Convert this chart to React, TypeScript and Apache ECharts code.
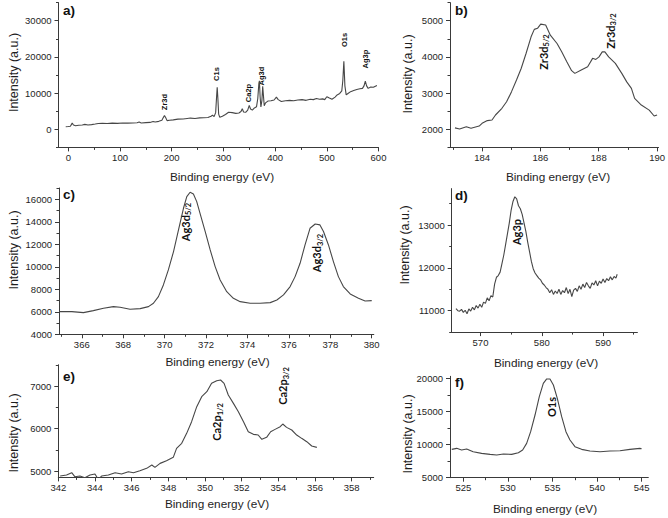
import React, { useEffect, useRef } from 'react';
import * as echarts from 'echarts';

// ---------- DATA ----------
// a) survey spectrum
const surveyEnergy = [-5, 0, 4, 7.5, 10, 14, 20, 27, 32, 38, 45, 52, 58, 66, 75, 85, 95, 105, 115, 125, 133, 137, 141, 150, 158, 164, 168, 175, 181, 184, 186, 188.5, 191, 196, 203, 212, 222, 230, 236, 245, 254, 262, 270, 276, 279, 282, 285, 286.8, 288, 289.3, 290.8, 293, 298, 304, 310, 317, 324, 330, 334, 336.5, 339, 343, 347, 350, 352.5, 356, 360, 364, 366.5, 368.5, 369.6, 371, 372.5, 374.5, 376, 377.3, 379, 381.5, 386, 392, 398, 402.5, 406, 412, 420, 428, 436, 444, 452, 460, 468, 474, 480, 486, 492, 496, 500, 504, 510, 516, 520, 525, 529, 531, 533, 535, 537.5, 541, 546, 552, 558, 564, 569, 572, 574.5, 577, 580, 585, 590, 594, 597];
const surveyIntensity = [700, 780, 850, 1700, 1200, 1000, 1100, 1200, 1350, 1200, 1300, 1450, 1600, 1650, 1600, 1700, 1650, 1750, 1700, 1750, 1800, 2000, 1750, 1850, 1900, 2150, 2000, 2200, 2500, 3300, 3800, 3200, 2400, 2500, 2600, 2800, 2850, 3000, 3100, 3000, 3150, 3200, 3250, 3600, 3900, 3500, 4600, 9000, 11600, 8500, 4200, 3300, 3600, 4100, 4700, 4600, 4400, 4500, 4900, 5700, 4800, 4700, 5300, 6600, 5600, 5300, 5900, 6200, 8500, 12500, 13400, 9000, 6200, 8000, 11900, 9500, 6500, 7300, 7800, 7900, 8100, 8900, 8200, 7700, 7900, 8000, 7900, 8100, 8200, 8000, 8300, 8200, 8500, 8300, 8400, 8200, 9000, 8700, 8300, 8900, 9500, 9900, 10600, 13500, 18800, 12000, 9500, 9900, 10400, 10700, 11000, 11200, 11300, 12000, 13300, 12000, 11300, 11700, 11600, 11900, 12100];
const surveyXTicks = [0, 100, 200, 300, 400, 500, 600];
const surveyXMinor = [50, 150, 250, 350, 450, 550];
const surveyYTicks = [0, 10000, 20000, 30000];
const surveyYMinor = [-5000, 5000, 15000, 25000, 35000];

// b) Zr3d
const zrEnergy = [183.07, 183.23, 183.46, 183.62, 183.9, 184.0, 184.18, 184.34, 184.46, 184.68, 184.84, 185.01, 185.18, 185.34, 185.51, 185.68, 185.79, 185.9, 186.01, 186.18, 186.34, 186.57, 186.73, 186.9, 187.07, 187.18, 187.4, 187.62, 187.79, 187.9, 188.01, 188.12, 188.21, 188.34, 188.57, 188.79, 188.96, 189.12, 189.23, 189.46, 189.73, 189.9, 190.0];
const zrIntensity = [2040, 2010, 2070, 2030, 2090, 2165, 2240, 2257, 2395, 2580, 2760, 3040, 3360, 3680, 4100, 4555, 4760, 4790, 4906, 4880, 4600, 4370, 4140, 3870, 3620, 3545, 3640, 3730, 3960, 3930, 4000, 4140, 4140, 4000, 3820, 3545, 3310, 3130, 2855, 2670, 2530, 2367, 2395];
const zrXTicks = [184, 186, 188, 190];
const zrXMinor = [183, 185, 187, 189];
const zrYTicks = [2000, 3000, 4000, 5000];
const zrYMinor = [1500, 2500, 3500, 4500, 5500];

// c) Ag3d
const ag3dEnergy = [364.92, 365.52, 366.08, 366.56, 367.05, 367.53, 367.85, 368.33, 368.82, 369.22, 369.46, 369.7, 369.94, 370.18, 370.43, 370.67, 370.91, 371.07, 371.23, 371.39, 371.55, 371.71, 371.96, 372.2, 372.44, 372.68, 373.0, 373.32, 373.65, 374.13, 374.61, 375.1, 375.42, 375.74, 376.06, 376.3, 376.54, 376.78, 377.02, 377.27, 377.5, 377.67, 377.91, 378.15, 378.39, 378.63, 378.96, 379.36, 379.68, 380.0];
const ag3dIntensity = [6015, 6015, 5926, 6104, 6311, 6459, 6400, 6222, 6281, 6460, 6755, 7350, 8385, 9720, 11350, 13270, 15200, 16240, 16620, 16470, 15790, 14750, 13130, 11500, 10015, 8830, 7790, 7200, 6900, 6755, 6755, 6815, 7050, 7500, 8240, 9125, 10310, 11940, 13420, 13800, 13720, 13130, 11940, 10460, 9125, 8240, 7585, 7200, 6960, 6990];
const ag3dXTicks = [366, 368, 370, 372, 374, 376, 378, 380];
const ag3dXMinor = [365, 367, 369, 371, 373, 375, 377, 379];
const ag3dYTicks = [4000, 6000, 8000, 10000, 12000, 14000, 16000];
const ag3dYMinor = [5000, 7000, 9000, 11000, 13000, 15000, 17000];

// d) Ag3p
const ag3pEnergy = [566.0, 566.3, 566.6, 566.9, 567.2, 567.5, 567.8, 568.1, 568.4, 568.7, 569.0, 569.3, 569.6, 569.9, 570.2, 570.5, 570.8, 571.1, 571.4, 571.7, 572.0, 572.3, 572.6, 572.9, 573.2, 573.5, 573.8, 574.1, 574.4, 574.7, 575.0, 575.3, 575.6, 575.9, 576.2, 576.5, 576.8, 577.1, 577.4, 577.7, 578.0, 578.3, 578.6, 578.9, 579.2, 579.5, 579.8, 580.1, 580.4, 580.7, 581.0, 581.3, 581.6, 581.9, 582.2, 582.5, 582.8, 583.1, 583.4, 583.7, 584.0, 584.3, 584.6, 584.9, 585.2, 585.5, 585.8, 586.1, 586.4, 586.7, 587.0, 587.3, 587.6, 587.9, 588.2, 588.5, 588.8, 589.1, 589.4, 589.7, 590.0, 590.3, 590.6, 590.9, 591.2, 591.5, 591.8, 592.1, 592.3];
const ag3pIntensity = [11050, 11000, 10990, 11030, 10960, 11010, 10930, 11040, 10990, 11080, 11020, 11120, 11060, 11150, 11080, 11200, 11170, 11300, 11230, 11350, 11320, 11620, 11780, 11820, 11900, 12100, 12300, 12550, 12800, 13050, 13350, 13550, 13660, 13610, 13450, 13380, 13250, 13050, 12850, 12600, 12380, 12150, 11980, 11880, 11820, 11760, 11720, 11640, 11600, 11540, 11500, 11420, 11490, 11380, 11460, 11400, 11500, 11380, 11470, 11420, 11540, 11400, 11500, 11330, 11480, 11520, 11450, 11580, 11500, 11620, 11540, 11660, 11580, 11520, 11650, 11600, 11700, 11580, 11690, 11640, 11740, 11660, 11750, 11700, 11790, 11720, 11800, 11760, 11850];
const ag3pXTicks = [570, 580, 590];
const ag3pXMinor = [575, 585, 595];
const ag3pYTicks = [11000, 12000, 13000];
const ag3pYMinor = [10500, 11500, 12500, 13500];

// e) Ca2p
const caEnergy = [342.1, 342.45, 342.73, 342.9, 343.18, 343.45, 343.73, 344.0, 344.18, 344.36, 344.73, 345.1, 345.45, 345.82, 346.1, 346.45, 346.82, 347.1, 347.27, 347.55, 347.9, 348.27, 348.45, 348.73, 349.0, 349.27, 349.55, 349.82, 350.1, 350.36, 350.64, 350.85, 351.04, 351.27, 351.55, 351.82, 352.1, 352.36, 352.64, 352.9, 353.1, 353.36, 353.58, 353.82, 354.1, 354.24, 354.45, 354.73, 355.0, 355.27, 355.55, 355.82, 356.1];
const caIntensity = [4882, 4906, 4961, 4867, 4882, 4843, 4906, 4929, 4804, 4882, 4906, 4961, 4929, 4984, 4961, 5008, 5063, 5141, 5086, 5180, 5243, 5322, 5533, 5651, 5886, 6161, 6514, 6749, 6867, 7063, 7125, 7141, 7063, 6788, 6592, 6396, 6161, 5925, 5863, 5847, 5745, 5792, 5925, 5980, 6043, 6106, 6027, 5965, 5847, 5769, 5690, 5588, 5557];
const caXTicks = [342, 344, 346, 348, 350, 352, 354, 356, 358];
const caXMinor = [343, 345, 347, 349, 351, 353, 355, 357, 359];
const caYTicks = [5000, 6000, 7000];
const caYMinor = [5500, 6500, 7500];

// f) O1s
const oEnergy = [523.7, 524.25, 524.8, 525.37, 526.1, 527.05, 528.0, 528.74, 529.5, 530.42, 531.17, 531.65, 532.1, 532.55, 533.04, 533.52, 533.97, 534.35, 534.72, 535.1, 535.54, 536.03, 536.51, 536.96, 537.52, 538.27, 539.2, 540.33, 541.45, 542.57, 543.69, 544.81, 545.0];
const oIntensity = [9278, 9430, 9180, 9330, 8925, 8675, 8522, 8420, 8573, 8522, 8775, 9177, 10180, 11945, 14460, 17230, 19245, 19900, 19900, 18990, 16980, 14210, 11945, 10690, 9680, 9278, 9025, 8925, 9025, 9075, 9278, 9430, 9380];
const oXTicks = [525, 530, 535, 540, 545];
const oXMinor = [527.5, 532.5, 537.5, 542.5];
const oYTicks = [5000, 10000, 15000, 20000];
const oYMinor = [7500, 12500, 17500];

// ---------- LAYOUT ----------
const FONT = '"Liberation Sans", Arial, sans-serif';
const LABEL_FONT = 'Lato, "Liberation Sans", sans-serif';
const AXIS_COLOR = '#3a3a3a';
const LINE_COLOR = '#474747';
const TEXT_COLOR = '#1e1e1e';

const panels = [
  { box: [58.5, 2.6, 320, 144.8], x: [-19, 600], y: [-5000, 35000], xt: surveyXTicks, xm: surveyXMinor, yt: surveyYTicks, ym: surveyYMinor, e: surveyEnergy, i: surveyIntensity },
  { box: [450, 2.6, 214.5, 144.8], x: [182.9, 190.05], y: [1500, 5500], xt: zrXTicks, xm: zrXMinor, yt: zrYTicks, ym: zrYMinor, e: zrEnergy, i: zrIntensity },
  { box: [59, 188, 314.8, 146.3], x: [364.9, 380.1], y: [4000, 17000], xt: ag3dXTicks, xm: ag3dXMinor, yt: ag3dYTicks, ym: ag3dYMinor, e: ag3dEnergy, i: ag3dIntensity },
  { box: [451.7, 188.6, 185.7, 143.5], x: [565.3, 595.6], y: [10500, 13850], xt: ag3pXTicks, xm: ag3pXMinor, yt: ag3pYTicks, ym: ag3pYMinor, e: ag3pEnergy, i: ag3pIntensity },
  { box: [58.3, 364.75, 315.4, 112.65], x: [342, 359.2], y: [4850, 7500], xt: caXTicks, xm: caXMinor, yt: caYTicks, ym: caYMinor, e: caEnergy, i: caIntensity },
  { box: [450, 376.3, 198.3, 101.4], x: [523.5, 545.75], y: [5000, 20300], xt: oXTicks, xm: oXMinor, yt: oYTicks, ym: oYMinor, e: oEnergy, i: oIntensity },
];

const xNames = [[222, 177], [558, 177], [217.5, 361.5], [546, 363.3], [217, 503.5], [545, 508.5]];
const yNames = [[14, 72.5], [408, 74], [14, 250], [405, 245], [14, 433], [407.5, 434]];
const letters = [['a)', 63, 10], ['b)', 455, 10], ['c)', 63, 194], ['d)', 455, 195], ['e)', 63, 376], ['f)', 455, 382]];
const surveyPeaks = [['Zr3d', 164.3, 102], ['C1s', 216.7, 74], ['Ca2p', 248.3, 93], ['Ag3d', 261, 76], ['O1s', 344, 40], ['Ag3p', 365, 59]];
const detailPeaks = [
  ['Zr3d', '5/2', 543.3, 52], ['Zr3d', '3/2', 610, 31],
  ['Ag3d', '5/2', 185, 222], ['Ag3d', '3/2', 316.7, 253],
  ['Ag3p', '', 516.7, 232],
  ['Ca2p', '1/2', 216.7, 422], ['Ca2p', '3/2', 282.7, 386],
  ['O1s', '', 551.7, 407],
];

const MAIN_SIZE = 11;
const SUB_SIZE = 7.5;

function measure(text: string, size: number): number {
  try {
    const ctx = document.createElement('canvas').getContext('2d');
    if (ctx) {
      ctx.font = `bold ${size}px ${LABEL_FONT}`;
      return ctx.measureText(text).width;
    }
  } catch (e) { /* ignore */ }
  return text.length * size * 0.55;
}

function buildOption() {
  const grid = panels.map((p) => ({ left: p.box[0], top: p.box[1], width: p.box[2], height: p.box[3] }));
  const fmt = (v: number) => String(v);
  const xAxis: any[] = [];
  const yAxis: any[] = [];
  const series: any[] = [];
  panels.forEach((p, gi) => {
    xAxis.push({
      type: 'value', gridIndex: gi, position: 'bottom', min: p.x[0], max: p.x[1],
      axisLine: { show: true, onZero: false, lineStyle: { color: AXIS_COLOR, width: 1 } },
      axisTick: { show: true, customValues: p.xt, length: 4, lineStyle: { color: AXIS_COLOR, width: 1 } },
      axisLabel: { show: true, customValues: p.xt, formatter: fmt, fontSize: 9.5, fontFamily: FONT, color: TEXT_COLOR, margin: 5 },
      splitLine: { show: false },
    });
    xAxis.push({
      type: 'value', gridIndex: gi, position: 'bottom', min: p.x[0], max: p.x[1],
      axisLine: { show: false, onZero: false },
      axisTick: { show: true, customValues: p.xm, length: 2.5, lineStyle: { color: AXIS_COLOR, width: 1 } },
      axisLabel: { show: false },
      splitLine: { show: false },
    });
    yAxis.push({
      type: 'value', gridIndex: gi, position: 'left', min: p.y[0], max: p.y[1],
      axisLine: { show: true, onZero: false, lineStyle: { color: AXIS_COLOR, width: 1 } },
      axisTick: { show: true, customValues: p.yt, length: 4, lineStyle: { color: AXIS_COLOR, width: 1 } },
      axisLabel: { show: true, customValues: p.yt, formatter: fmt, fontSize: 9.5, fontFamily: FONT, color: TEXT_COLOR, margin: 7 },
      splitLine: { show: false },
    });
    yAxis.push({
      type: 'value', gridIndex: gi, position: 'left', min: p.y[0], max: p.y[1],
      axisLine: { show: false, onZero: false },
      axisTick: { show: true, customValues: p.ym, length: 2.5, lineStyle: { color: AXIS_COLOR, width: 1 } },
      axisLabel: { show: false },
      splitLine: { show: false },
    });
    series.push({
      type: 'line', xAxisIndex: gi * 2, yAxisIndex: gi * 2,
      data: p.e.map((e, k) => [e, p.i[k]]),
      showSymbol: false, symbol: 'none', silent: true,
      lineStyle: { color: LINE_COLOR, width: 1.1 },
    });
  });

  const graphic: any[] = [];
  xNames.forEach(([x, y]) => graphic.push({
    type: 'text', x, y, silent: true,
    style: { text: 'Binding energy (eV)', fontSize: 11.8, fontFamily: FONT, fill: TEXT_COLOR, align: 'center', verticalAlign: 'middle' },
  }));
  yNames.forEach(([x, y]) => graphic.push({
    type: 'text', x, y, rotation: Math.PI / 2, silent: true,
    style: { text: 'Intensity (a.u.)', fontSize: 12.5, fontFamily: FONT, fill: TEXT_COLOR, align: 'center', verticalAlign: 'middle' },
  }));
  letters.forEach(([t, x, y]) => graphic.push({
    type: 'text', x, y, silent: true,
    style: { text: t, fontSize: 13.5, fontWeight: 'bold', fontFamily: FONT, fill: '#111', align: 'left', verticalAlign: 'middle' },
  }));
  surveyPeaks.forEach(([t, x, y]) => graphic.push({
    type: 'text', x, y, rotation: Math.PI / 2, silent: true,
    style: { text: t, fontSize: 7.5, fontWeight: 'bold', fontFamily: FONT, fill: '#111', align: 'center', verticalAlign: 'middle' },
  }));
  detailPeaks.forEach(([m, s, x, y]) => {
    const wm = measure(m as string, MAIN_SIZE);
    const ws = s ? measure(s as string, SUB_SIZE) : 0;
    const start = -(wm + ws) / 2;
    const children: any[] = [{
      type: 'text', x: start, y: 0, silent: true,
      style: { text: m, fontSize: MAIN_SIZE, fontWeight: 'bold', fontFamily: LABEL_FONT, fill: '#111', align: 'left', verticalAlign: 'middle' },
    }];
    if (s) {
      children.push({
        type: 'text', x: start + wm, y: 3.5, silent: true,
        style: { text: s, fontSize: SUB_SIZE, fontWeight: 'bold', fontFamily: LABEL_FONT, fill: '#111', align: 'left', verticalAlign: 'middle' },
      });
    }
    graphic.push({ type: 'group', x, y, rotation: Math.PI / 2, silent: true, children });
  });

  return { animation: false, backgroundColor: '#ffffff', grid, xAxis, yAxis, series, graphic };
}

export default function App() {
  const ref = useRef<HTMLDivElement>(null);
  useEffect(() => {
    if (!ref.current) return;
    const chart = echarts.init(ref.current, undefined, { renderer: 'svg' });
    chart.setOption(buildOption() as any);
    return () => chart.dispose();
  }, []);
  return <div ref={ref} style={{ position: 'absolute', left: 0, top: 0, width: 668, height: 518, background: '#fff' }} />;
}
